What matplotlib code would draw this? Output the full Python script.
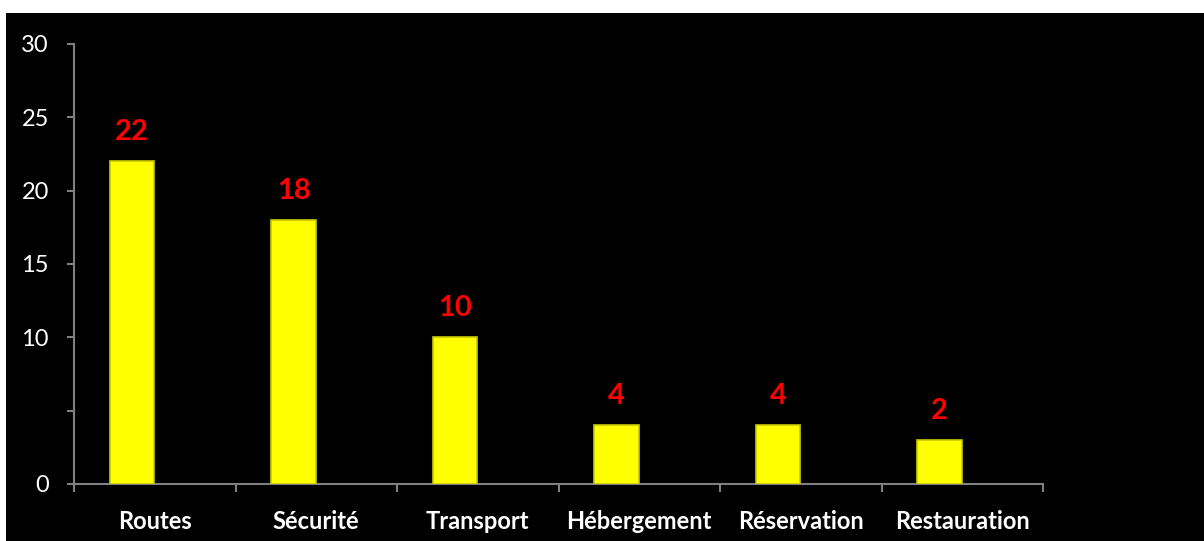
import matplotlib.pyplot as plt
from matplotlib.patches import Rectangle
from matplotlib.ticker import FixedLocator
import numpy as np

categories = ['Routes', 'Sécurité', 'Transport', 'Hébergement', 'Réservation', 'Restauration']
values = [22, 18, 10, 4, 4, 3]
value_labels = ['22', '18', '10', '4', '4', '2']
yticks = [0, 5, 10, 15, 20, 25, 30]
ytick_labels = ['0', '', '10', '15', '20', '25', '30']

plt.rcParams['font.family'] = ['Lato', 'DejaVu Sans']

fig = plt.figure(figsize=(12.04, 5.41), dpi=100)
fig.patch.set_facecolor('white')
# black panel, white strip on top and left
fig.patches.append(Rectangle((6/1204, 0), 1, (541-13)/541, transform=fig.transFigure,
                             facecolor='black', edgecolor='none', zorder=-5))

ax = fig.add_axes([74/1204, 57/541, (1043-74)/1204, 440/541])
ax.set_zorder(2)
ax.set_facecolor('black')

x = np.arange(len(categories))
bars = ax.bar(x - 0.14, values, width=0.275, color='#ffff00', edgecolor='#c8c800', linewidth=1.2, zorder=3)
for b, lab in zip(bars, value_labels):
    ax.text(b.get_x() + b.get_width()/2, b.get_height() + 1.1, lab, ha='center', va='bottom',
            color='#ff0000', fontsize=21, weight='bold')

ax.set_xlim(-0.5, len(categories) - 0.5)
ax.set_ylim(0, 30)
ax.set_yticks(yticks)
ax.set_yticklabels(ytick_labels)
ax.set_xticks(x)
ax.set_xticklabels(categories, fontsize=17, weight='bold', color='white')
ax.xaxis.set_minor_locator(FixedLocator(np.arange(len(categories) + 1) - 0.5))
ax.tick_params(axis='x', which='major', length=0, pad=19)
ax.tick_params(axis='x', which='minor', length=6, width=1.5, color='#808080', direction='out')
ax.tick_params(axis='y', length=5, width=1.5, color='#808080', labelcolor='white', labelsize=17, pad=13)

for side in ['top', 'right']:
    ax.spines[side].set_visible(False)
for side in ['left', 'bottom']:
    ax.spines[side].set_color('#808080')
    ax.spines[side].set_linewidth(1.5)

plt.savefig('out.png', dpi=100, facecolor=fig.get_facecolor())
